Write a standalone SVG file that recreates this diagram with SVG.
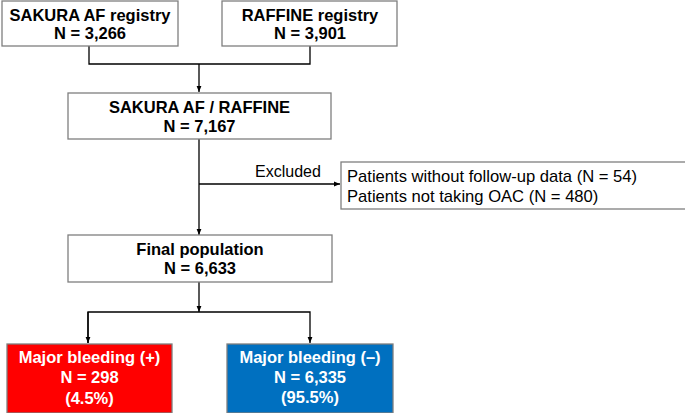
<svg xmlns="http://www.w3.org/2000/svg" width="685" height="413" viewBox="0 0 685 413">
<style>
.box{fill:#fff;stroke:#7f7f7f;stroke-width:1.3}
.t{font-family:"Liberation Sans",Arial,sans-serif;font-size:16.5px;font-weight:bold;fill:#000;text-anchor:middle}
.w{fill:#fff}
.r{font-family:"Liberation Sans",Arial,sans-serif;font-size:16px;fill:#000}
.x{font-size:16.6px}
.c{fill:none;stroke:#000;stroke-width:1.3}
</style>
<defs>
<marker id="a" viewBox="0 0 10 10" refX="10" refY="5" markerWidth="5" markerHeight="5" orient="auto"><path d="M0,1 L10,5 L0,9 z" fill="#000"/></marker>
</defs>
<rect width="685" height="413" fill="#fff"/>
<g id="connectors">
<path class="c" d="M89,46 V64 H310 V46"/>
<path class="c" d="M199,64 V92" marker-end="url(#a)"/>
<path class="c" d="M199,139 V235" marker-end="url(#a)"/>
<path class="c" d="M199,184 H340" marker-end="url(#a)"/>
<path class="c" d="M199,282 V312" marker-end="url(#a)"/>
<path class="c" d="M88,343 V312 H310 V343" marker-end="url(#a)"/>
<path class="c" d="M88,312 V343" marker-end="url(#a)"/>
<text class="r" x="255" y="177">Excluded</text>
</g>
<g id="sakura">
<rect class="box" x="2" y="1" width="176" height="45"/>
<text class="t" x="90" y="21">SAKURA AF registry</text>
<text class="t" x="90" y="39">N = 3,266</text>
</g>
<g id="raffine">
<rect class="box" x="222" y="1" width="175" height="45"/>
<text class="t" x="310" y="21">RAFFINE registry</text>
<text class="t" x="310" y="39">N = 3,901</text>
</g>
<g id="combined">
<rect class="box" x="68" y="93" width="263" height="46"/>
<text class="t" x="199.5" y="113">SAKURA AF / RAFFINE</text>
<text class="t" x="199.5" y="132">N = 7,167</text>
</g>
<g id="excluded">
<rect class="box" x="341" y="162" width="350" height="47"/>
<text class="r x" x="347" y="182">Patients without follow-up data (N = 54)</text>
<text class="r x" x="347" y="202">Patients not taking OAC (N = 480)</text>
</g>
<g id="final">
<rect class="box" x="68" y="235" width="264" height="47"/>
<text class="t" x="200" y="255">Final population</text>
<text class="t" x="200" y="274">N = 6,633</text>
</g>
<g id="bleed-pos">
<rect class="box" x="7" y="344" width="165" height="69" style="fill:#ff0000"/>
<text class="t w" x="89.5" y="363">Major bleeding (+)</text>
<text class="t w" x="89.5" y="383">N = 298</text>
<text class="t w" x="89.5" y="404">(4.5%)</text>
</g>
<g id="bleed-neg">
<rect class="box" x="227" y="344" width="166" height="69" style="fill:#0070c0"/>
<text class="t w" x="310" y="363">Major bleeding (–)</text>
<text class="t w" x="310" y="383">N = 6,335</text>
<text class="t w" x="310" y="403">(95.5%)</text>
</g>
</svg>
